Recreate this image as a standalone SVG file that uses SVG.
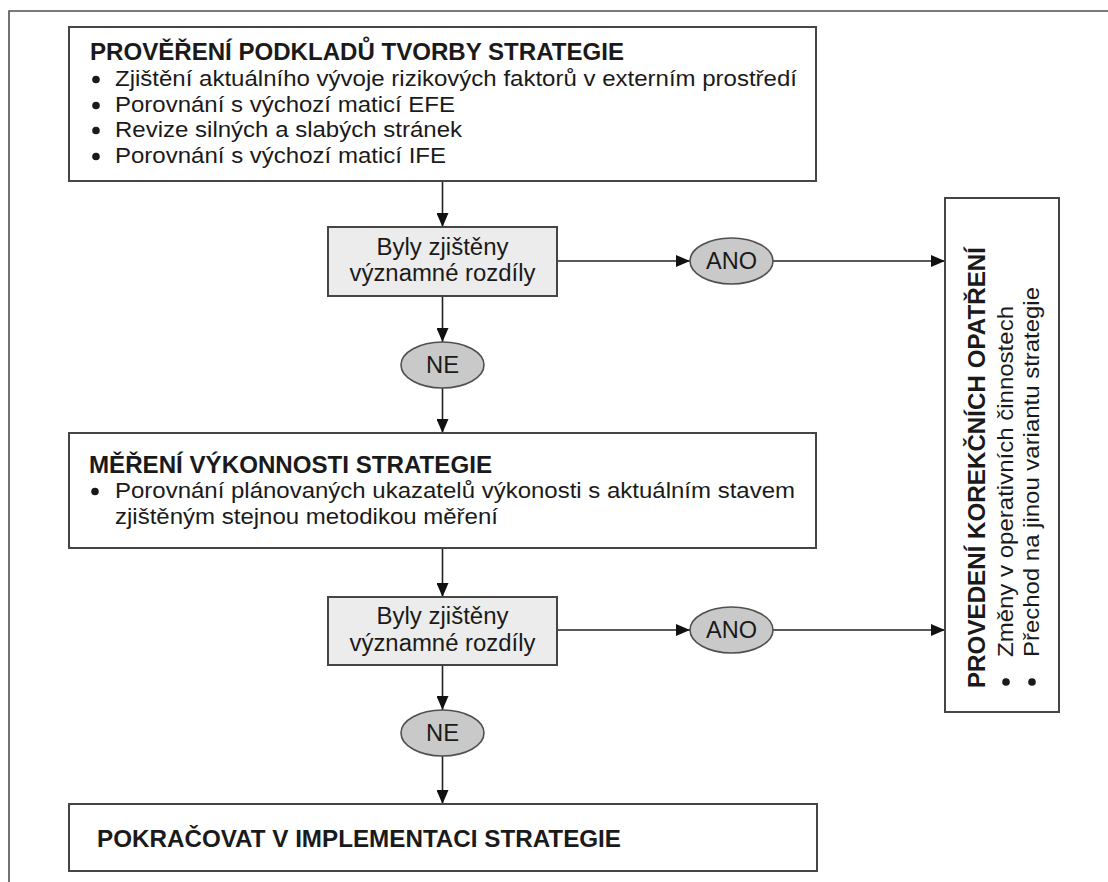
<svg xmlns="http://www.w3.org/2000/svg" width="1108" height="882" viewBox="0 0 1108 882">
<defs>
<style>
.box{fill:#ffffff;stroke:#454545;stroke-width:2}
.dec{fill:#ececec;stroke:#454545;stroke-width:2}
.ell{fill:#c9c9c9;stroke:#505050;stroke-width:1.6}
.frame{stroke:#505050;stroke-width:1.6;fill:none}
.conn{stroke:#222;stroke-width:1.6;fill:none;marker-end:url(#arr)}
.t{font-family:"Liberation Sans",Arial,sans-serif;fill:#1a1a1a}
.title{font-size:23px;font-weight:bold}
.body{font-size:22.5px}
.dtxt{font-size:23px;text-anchor:middle}
.bul{fill:#1a1a1a}
</style>
<marker id="arr" viewBox="0 0 14 12" refX="14" refY="6" markerWidth="14" markerHeight="12" markerUnits="userSpaceOnUse" orient="auto">
<path d="M0,0 L14,6 L0,12 Z" fill="#111"/>
</marker>
</defs>
<rect width="1108" height="882" fill="#ffffff"/>
<path class="frame" d="M9,882 L9,11 L1108,11"/>

<g id="connectors">
<line class="conn" x1="442.5" y1="181" x2="442.5" y2="227"/>
<line class="conn" x1="557" y1="261" x2="690" y2="261"/>
<line class="conn" x1="773" y1="261" x2="945" y2="261"/>
<line class="conn" x1="442.5" y1="296" x2="442.5" y2="342"/>
<line class="conn" x1="442.5" y1="388" x2="442.5" y2="433"/>
<line class="conn" x1="442.5" y1="548" x2="442.5" y2="597"/>
<line class="conn" x1="557" y1="630" x2="690" y2="630"/>
<line class="conn" x1="773" y1="630" x2="945" y2="630"/>
<line class="conn" x1="442.5" y1="665" x2="442.5" y2="710"/>
<line class="conn" x1="442.5" y1="756" x2="442.5" y2="804"/>
</g>

<g id="node-podklady">
<rect class="box" x="69" y="27" width="747" height="154"/>
<text class="t title" x="90" y="60" textLength="534" lengthAdjust="spacingAndGlyphs">PROVĚŘENÍ PODKLADŮ TVORBY STRATEGIE</text>
<circle class="bul" cx="96" cy="79.5" r="3.8"/>
<text class="t body" x="115" y="86" textLength="682" lengthAdjust="spacingAndGlyphs">Zjištění aktuálního vývoje rizikových faktorů v externím prostředí</text>
<circle class="bul" cx="96" cy="105.5" r="3.8"/>
<text class="t body" x="115" y="112" textLength="340" lengthAdjust="spacingAndGlyphs">Porovnání s výchozí maticí EFE</text>
<circle class="bul" cx="96" cy="130.5" r="3.8"/>
<text class="t body" x="115" y="137" textLength="347" lengthAdjust="spacingAndGlyphs">Revize silných a slabých stránek</text>
<circle class="bul" cx="96" cy="156.5" r="3.8"/>
<text class="t body" x="115" y="163" textLength="331" lengthAdjust="spacingAndGlyphs">Porovnání s výchozí maticí IFE</text>
</g>

<g id="node-rozdily1">
<rect class="dec" x="328" y="227" width="229" height="69"/>
<text class="t dtxt" x="442.5" y="254.5" textLength="132" lengthAdjust="spacingAndGlyphs">Byly zjištěny</text>
<text class="t dtxt" x="442.5" y="281" textLength="186" lengthAdjust="spacingAndGlyphs">významné rozdíly</text>
</g>

<g id="node-ano1">
<ellipse class="ell" cx="731.5" cy="261" rx="41.5" ry="23"/>
<text class="t dtxt" x="731.5" y="269" textLength="51" lengthAdjust="spacingAndGlyphs">ANO</text>
</g>

<g id="node-ne1">
<ellipse class="ell" cx="442.5" cy="365" rx="41.5" ry="23"/>
<text class="t dtxt" x="442.5" y="373" textLength="33" lengthAdjust="spacingAndGlyphs">NE</text>
</g>

<g id="node-mereni">
<rect class="box" x="69" y="433" width="747" height="115"/>
<text class="t title" x="89" y="472.5" textLength="403" lengthAdjust="spacingAndGlyphs">MĚŘENÍ VÝKONNOSTI STRATEGIE</text>
<circle class="bul" cx="95" cy="491.5" r="3.8"/>
<text class="t body" x="115" y="498" textLength="680" lengthAdjust="spacingAndGlyphs">Porovnání plánovaných ukazatelů výkonosti s aktuálním stavem</text>
<text class="t body" x="115" y="524" textLength="383" lengthAdjust="spacingAndGlyphs">zjištěným stejnou metodikou měření</text>
</g>

<g id="node-rozdily2">
<rect class="dec" x="328" y="597" width="229" height="68"/>
<text class="t dtxt" x="442.5" y="624" textLength="132" lengthAdjust="spacingAndGlyphs">Byly zjištěny</text>
<text class="t dtxt" x="442.5" y="651" textLength="186" lengthAdjust="spacingAndGlyphs">významné rozdíly</text>
</g>

<g id="node-ano2">
<ellipse class="ell" cx="731.5" cy="630" rx="41.5" ry="23"/>
<text class="t dtxt" x="731.5" y="638" textLength="51" lengthAdjust="spacingAndGlyphs">ANO</text>
</g>

<g id="node-ne2">
<ellipse class="ell" cx="442.5" cy="733" rx="41.5" ry="23"/>
<text class="t dtxt" x="442.5" y="741" textLength="33" lengthAdjust="spacingAndGlyphs">NE</text>
</g>

<g id="node-pokracovat">
<rect class="box" x="69" y="804" width="748" height="67"/>
<text class="t title" x="97" y="846.5" textLength="524" lengthAdjust="spacingAndGlyphs">POKRAČOVAT V IMPLEMENTACI STRATEGIE</text>
</g>

<g id="node-opatreni">
<rect class="box" x="945" y="198" width="114" height="514"/>
<text class="t title" transform="translate(985,688) rotate(-90)" x="0" y="0" textLength="441" lengthAdjust="spacingAndGlyphs">PROVEDENÍ KOREKČNÍCH OPATŘENÍ</text>
<circle class="bul" cx="1006" cy="682" r="3.8"/>
<text class="t body" transform="translate(1013,657) rotate(-90)" x="0" y="0" textLength="351" lengthAdjust="spacingAndGlyphs">Změny v operativních činnostech</text>
<circle class="bul" cx="1032" cy="682" r="3.8"/>
<text class="t body" transform="translate(1039,657) rotate(-90)" x="0" y="0" textLength="370" lengthAdjust="spacingAndGlyphs">Přechod na jinou variantu strategie</text>
</g>
</svg>
